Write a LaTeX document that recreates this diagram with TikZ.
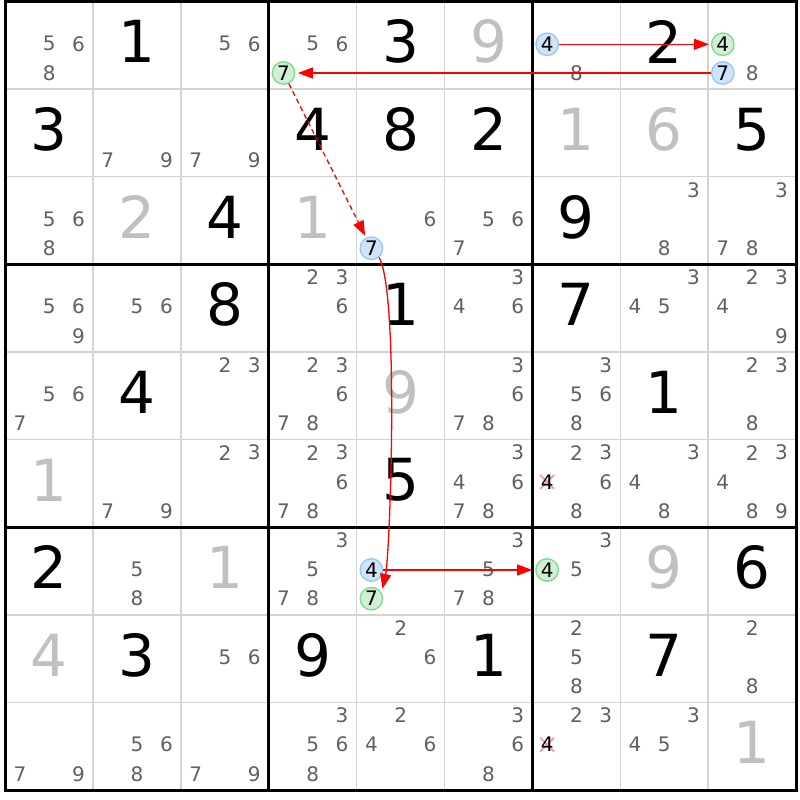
\documentclass[tikz,border=0pt]{standalone}
\usepackage{fontspec}
\setmainfont{DejaVu Sans}
\usetikzlibrary{arrows.meta}
\definecolor{gridgray}{RGB}{211,211,211}
\definecolor{candgray}{RGB}{96,96,96}
\definecolor{givengray}{RGB}{192,192,192}
\definecolor{bluefill}{RGB}{207,228,250}
\definecolor{bluedraw}{RGB}{150,198,245}
\definecolor{greenfill}{RGB}{207,240,212}
\definecolor{greendraw}{RGB}{128,216,140}
\definecolor{crosspink}{RGB}{245,160,175}
\definecolor{linkred}{RGB}{255,0,0}

\begin{document}
\begin{tikzpicture}[x=87.86pt,y=87.61pt,semithick]
		
		% Styles for the digits
		\tikzstyle{solved}=[inner sep=0pt,font=\fontsize{58}{60}\selectfont,yshift=3.5pt]
		\tikzstyle{given}=[solved,text=givengray]
		\tikzstyle{cand}=[inner sep=0pt,font=\fontsize{20}{22}\selectfont,text=candgray,yshift=1.5pt]
		\tikzstyle{blue cand}=[circle,draw=bluedraw,fill=bluefill,line width=1.3pt,minimum size=22.5pt,inner sep=0pt,font=\fontsize{20}{22}\selectfont,yshift=1.5pt]
		\tikzstyle{green cand}=[blue cand,draw=greendraw,fill=greenfill]
		\tikzstyle{cross}=[draw=crosspink,line width=2pt]
		\tikzstyle{link}=[draw=linkred,line width=1.3pt,-{Triangle[length=15pt,width=11pt]},shorten >=2pt]
		
		\useasboundingbox (-5.3pt,-10pt) rectangle (794.7pt,790pt);
		\fill[white] (-5.3pt,-10pt) rectangle (794.7pt,790pt);
		
		% Grid
		\foreach \i in {1,2,4,5,7,8} {
			\draw[gridgray,line width=1.5pt] (\i,0) -- (\i,9);
			\draw[gridgray,line width=1.5pt] (0,\i) -- (9,\i);
		}
		\foreach \i in {3,6} {
			\draw[line width=3pt] (\i,0) -- (\i,9);
			\draw[line width=3pt] (0,\i) -- (9,\i);
		}
		\draw[line width=3pt] (0,0) rectangle (9,9);
		
		% Solved cells
		\foreach \r/\c/\d in {1/2/1,1/5/3,1/8/2,2/1/3,2/4/4,2/5/8,2/6/2,2/9/5,3/3/4,3/7/9,
			4/3/8,4/5/1,4/7/7,5/2/4,5/8/1,6/5/5,7/1/2,7/9/6,8/2/3,8/4/9,8/6/1,8/8/7}
			\node[solved] (s\r\c) at (\c-.5,9.5-\r) {\d};
		
		% Givens
		\foreach \r/\c/\d in {1/6/9,2/7/1,2/8/6,3/2/2,3/4/1,5/5/9,6/1/1,7/3/1,7/8/9,8/1/4,9/9/1}
			\node[given] (s\r\c) at (\c-.5,9.5-\r) {\d};
		
		% Candidates
		\foreach \r/\c/\L in {1/1/{5,6,8},1/3/{5,6},1/4/{5,6},1/7/{8},1/9/{8},
			2/2/{7,9},2/3/{7,9},
			3/1/{5,6,8},3/5/{6},3/6/{5,6,7},3/8/{3,8},3/9/{3,7,8},
			4/1/{5,6,9},4/2/{5,6},4/4/{2,3,6},4/6/{3,4,6},4/8/{3,4,5},4/9/{2,3,4,9},
			5/1/{5,6,7},5/3/{2,3},5/4/{2,3,6,7,8},5/6/{3,6,7,8},5/7/{3,5,6,8},5/9/{2,3,8},
			6/2/{7,9},6/3/{2,3},6/4/{2,3,6,7,8},6/6/{3,4,6,7,8},6/7/{2,3,6,8},6/8/{3,4,8},6/9/{2,3,4,8,9},
			7/2/{5,8},7/4/{3,5,7,8},7/6/{3,5,7,8},7/7/{3,5},
			8/3/{5,6},8/5/{2,6},8/7/{2,5,8},8/9/{2,8},
			9/1/{7,9},9/2/{5,6,8},9/3/{7,9},9/4/{3,5,6,8},9/5/{2,4,6},9/6/{3,6,8},9/7/{2,3},9/8/{3,4,5}}
			\foreach \d in \L
				\node[cand] (k\r\c\d) at ({\c-.5+(mod(\d-1,3)-1)/3},{9.5-\r-(int((\d-1)/3)-1)/3}) {\d};
		
		% Eliminated candidates
		\draw[cross] (6.1667,3.5) ++(-7pt,-5.5pt) -- ++(14pt,14pt) ++(-14pt,0) -- ++(14pt,-14pt);
		\node[cand] (r67d4) at (6.1667,3.5) {\textcolor{black}{4}};
		\draw[cross] (6.1667,0.5) ++(-7pt,-5.5pt) -- ++(14pt,14pt) ++(-14pt,0) -- ++(14pt,-14pt);
		\node[cand] (r97d4) at (6.1667,0.5) {\textcolor{black}{4}};
		
		% Chain candidates
		\node[blue cand,yshift=-0.5pt] (r17d4) at (6.1667,8.5) {4};
		\node[green cand,yshift=-0.5pt] (r19d4) at (8.1667,8.5) {4};
		\node[blue cand] (r19d7) at (8.1667,8.1667) {7};
		\node[green cand] (r14d7) at (3.1667,8.1667) {7};
		\node[blue cand] (r35d7) at (4.1667,6.1667) {7};
		\node[blue cand,yshift=-0.5pt] (r75d4) at (4.1667,2.5) {4};
		\node[green cand] (r75d7) at (4.1667,2.1667) {7};
		\node[green cand,yshift=-0.5pt] (r77d4) at (6.1667,2.5) {4};
		
		% Links
		% 4 in row 1
		\draw[link] (r17d4) -- (r19d4);
		% 7 in row 1
		\draw[link,shorten >=2.5pt] (r19d7) -- (r14d7);
		% 7 in box 2
		\draw[link,dash pattern=on 5pt off 3.5pt] (r14d7) -- (r35d7);
		% 7 in column 5
		\draw[link,shorten >=4pt] (r35d7.-50) to[out=-60,in=78,looseness=0.31] (r75d7.30);
		% 4 in row 7
		\draw[link,shorten >=3pt] (r75d4) -- (r77d4);
		
	\end{tikzpicture}
\end{document}
